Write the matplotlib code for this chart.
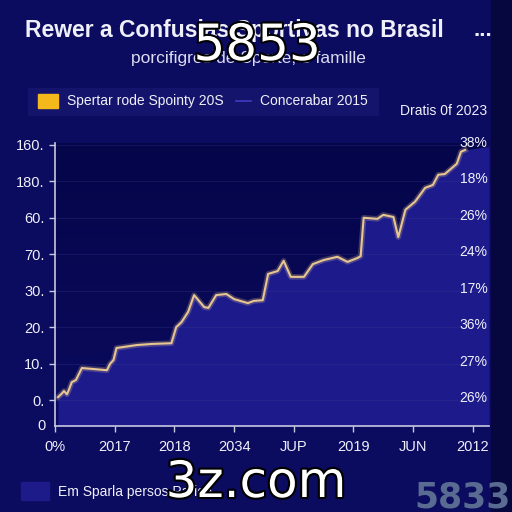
import numpy as np
import matplotlib
matplotlib.use("Agg")
import matplotlib.pyplot as plt
import matplotlib.patheffects as pe
from matplotlib.patches import Rectangle

plt.rcParams['font.family'] = ['Liberation Sans', 'DejaVu Sans']

# ---- data ----
x_vals = [0.05, 0.12, 0.15, 0.20, 0.23, 0.28, 0.35, 0.45, 0.87, 0.92, 0.98, 1.03, 1.12,
          1.37, 1.62, 1.95, 2.03, 2.12, 2.23, 2.33, 2.50, 2.57, 2.70, 2.87, 3.00, 3.23,
          3.33, 3.48, 3.57, 3.73, 3.83, 3.95, 4.17, 4.32, 4.50, 4.73, 4.90, 5.07, 5.12,
          5.17, 5.40, 5.50, 5.67, 5.75, 5.87, 6.03, 6.20, 6.33, 6.42, 6.53, 6.73, 6.80, 6.87]
y_vals = [0.08, 0.19, 0.25, 0.16, 0.27, 0.49, 0.55, 0.88, 0.82, 0.99, 1.10, 1.43, 1.45,
          1.51, 1.54, 1.56, 2.00, 2.14, 2.42, 2.88, 2.55, 2.53, 2.88, 2.91, 2.77, 2.66,
          2.72, 2.74, 3.46, 3.54, 3.82, 3.38, 3.38, 3.73, 3.84, 3.93, 3.79, 3.90, 3.95,
          5.00, 4.97, 5.08, 5.02, 4.47, 5.22, 5.44, 5.82, 5.90, 6.18, 6.20, 6.48, 6.81, 6.86]
x_ticklabels = ["0%", "2017", "2018", "2034", "JUP", "2019", "JUN", "2012"]
y_ticklabels = ["0.", "10.", "20.", "30.", "70.", "60.", "180.", "160."]
right_labels = ["26%", "27%", "36%", "17%", "24%", "26%", "18%", "38%"]

title = "Rewer a Confusias Sportivas no Brasil"
subtitle = "porcifigres de Sporte, e famille"
legend1 = "Spertar rode Spointy 20S"
legend2 = "Concerabar 2015"
side_note = "Dratis 0f 2023"
bottom_legend = "Em Sparla persos Parice."

# ---- style ----
BG = '#0b0b5f'
FILL = '#1d1b8c'
LINE = '#e8c690'
TXT = '#f0f0fa'
W = H = 512

fig = plt.figure(figsize=(5.12, 5.12), dpi=100, facecolor=BG)

def fx(px):
    return px / W

def fy(py):
    return 1 - py / H

# right dark band
fig.patches.append(Rectangle((fx(491), 0), fx(21), 1, transform=fig.transFigure,
                             color='#07073f', zorder=0))

ax = fig.add_axes([fx(55), fy(426), fx(489) - fx(55), fy(143) - fy(426)])
xmax = 7.27
ymin, ymax = -0.71, 7.05
ax.set_xlim(0, xmax)
ax.set_ylim(ymin, ymax)

# gradient background in plot area
grad = np.linspace(0, 1, 256).reshape(-1, 1)
ax.imshow(grad, extent=[0, xmax, ymin, ymax], aspect='auto', origin='lower',
          cmap=matplotlib.colors.LinearSegmentedColormap.from_list('g', ['#0b0b5e', '#05054a']),
          zorder=0)

xf = np.append(x_vals, xmax)
yf = np.append(y_vals, y_vals[-1] + 0.1)
ax.fill_between(xf, ymin, yf, color=FILL, zorder=1, lw=0)
ax.plot(x_vals, y_vals, color=LINE, lw=4, alpha=0.25, zorder=2, solid_joinstyle='round')
ax.plot(x_vals, y_vals, color=LINE, lw=1.5, zorder=3, solid_joinstyle='round')

ax.set_yticks(range(len(y_ticklabels)))
ax.set_yticklabels(y_ticklabels)
ax.set_xticks(range(len(x_ticklabels)))
ax.set_xticklabels(x_ticklabels)
ax.tick_params(axis='both', colors='#c8c8e0', labelcolor=TXT, labelsize=10.5, length=4, width=1)
ax.tick_params(axis='x', pad=6)
ax.grid(axis='y', color='#3a3a90', alpha=0.35, lw=0.6)
ax.set_axisbelow(False)
for s in ['top', 'right']:
    ax.spines[s].set_visible(False)
for s in ['left', 'bottom']:
    ax.spines[s].set_color('#c8c8e0')
    ax.spines[s].set_linewidth(1.2)
    ax.spines[s].set_zorder(4)

# "0" at axis bottom
fig.text(fx(41), fy(426), "0", color=TXT, fontsize=10.5, ha='center', va='center')

# right labels
for i, lab in enumerate(right_labels):
    ax.text(0.997, i + 0.05, lab, transform=ax.get_yaxis_transform(), color=TXT,
            fontsize=10, ha='right', va='center', zorder=5)

# title & subtitle
fig.text(fx(234), fy(30), title, color=TXT, fontsize=16.5, fontweight='bold',
         ha='center', va='center')
fig.text(fx(483), fy(30), "...", color=TXT, fontsize=16, fontweight='bold',
         ha='center', va='center')
fig.text(fx(248), fy(59), subtitle, color='#dcdcf0', fontsize=12.5, ha='center', va='center')

# top legend
fig.patches.append(Rectangle((fx(28), fy(115)), fx(378) - fx(28), fy(88) - fy(115),
                             transform=fig.transFigure, color='#14146c', zorder=1))
fig.patches.append(Rectangle((fx(38), fy(108)), fx(20), fy(94) - fy(108),
                             transform=fig.transFigure, color='#f5b81a', zorder=2))
fig.text(fx(67), fy(101), legend1, color=TXT, fontsize=10, ha='left', va='center')
fig.lines.append(matplotlib.lines.Line2D([fx(236), fx(251)], [fy(101), fy(101)],
                                         transform=fig.transFigure, color='#3c3cc0', lw=1.2))
fig.text(fx(260), fy(101), legend2, color=TXT, fontsize=10, ha='left', va='center')
fig.text(fx(400), fy(111), side_note, color=TXT, fontsize=10, ha='left', va='center')

# bottom legend
fig.patches.append(Rectangle((fx(21), fy(500)), fx(28), fy(482) - fy(500),
                             transform=fig.transFigure, color='#1d1b8a', zorder=1))
fig.text(fx(58), fy(492), bottom_legend, color=TXT, fontsize=10, ha='left', va='center')

# watermarks
fig.text(fx(463), fy(481), "5833", color='#5a6b92', fontsize=25, fontweight='bold',
         ha='center', va='top', family='Liberation Sans Narrow')
fig.text(fx(257), fy(46), "5853", color='white', fontsize=36, ha='center', va='center',
         family='DejaVu Sans',
         path_effects=[pe.withStroke(linewidth=3, foreground='black')])
fig.text(fx(256), fy(483), "3z.com", color='white', fontsize=36, ha='center', va='center',
         family='DejaVu Sans',
         path_effects=[pe.withStroke(linewidth=3, foreground='black')])

fig.savefig("out.png", dpi=100, facecolor=BG)
